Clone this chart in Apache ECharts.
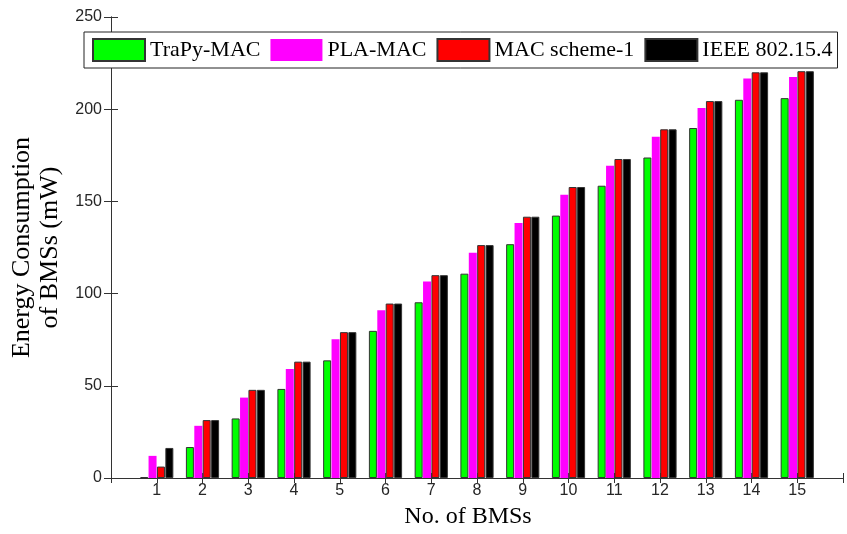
<!DOCTYPE html>
<html>
<head>
<meta charset="utf-8">
<script src="https://cdn.jsdelivr.net/npm/echarts@6/dist/echarts.min.js"></script>
<style>
html,body{margin:0;padding:0;background:#fff;}
#chart{width:847px;height:534px;}
</style>
</head>
<body>
<div id="chart"></div>
<script>
var categories = [1, 2, 3, 4, 5, 6, 7, 8, 9, 10, 11, 12, 13, 14, 15];
var seriesNames = ['TraPy-MAC', 'PLA-MAC', 'MAC scheme-1', 'IEEE 802.15.4'];
var trapyMac = [0.5, 16.8, 32.3, 48.3, 63.8, 79.8, 95.3, 110.8, 126.8, 142.3, 158.5, 173.8, 189.8, 205.1, 206];
var plaMac = [12, 28.3, 43.6, 59.1, 75.3, 91, 106.6, 122.1, 138.3, 153.6, 169.3, 185.1, 200.6, 216.6, 217.5];
var macScheme1 = [6.2, 31.4, 47.8, 63.1, 79.1, 94.6, 110, 126.3, 141.7, 157.8, 173, 189.1, 204.4, 220, 220.6];
var ieee802154 = [16.3, 31.4, 47.8, 63.1, 79.1, 94.6, 110, 126.3, 141.7, 157.8, 173, 189.1, 204.4, 220, 220.6];
var yTicks = [0, 50, 100, 150, 200, 250];

var seriesValues = [trapyMac, plaMac, macScheme1, ieee802154];
var colors = ['#00ff00', '#ff00ff', '#ff0000', '#000000'];
var borders = [1, 0, 1, 1];

var chart = echarts.init(document.getElementById('chart'), null, {renderer: 'canvas'});

var series = seriesNames.map(function (name, i) {
  return {
    name: name,
    type: 'bar',
    xAxisIndex: 0,
    yAxisIndex: 0,
    barWidth: 8,
    barGap: '5%',
    itemStyle: {color: colors[i], borderColor: '#333', borderWidth: borders[i]},
    emphasis: {disabled: true},
    data: categories.map(function (c, k) { return [c, seriesValues[i][k]]; })
  };
});

var axisLineStyle = {color: '#333', width: 1};

chart.setOption({
  animation: false,
  backgroundColor: '#fff',
  grid: {left: 109, right: 4, top: 17, bottom: 54, containLabel: false},
  legend: {
    data: seriesNames,
    left: 84,
    top: 32,
    orient: 'horizontal',
    itemWidth: 52,
    itemHeight: 22,
    itemGap: 10,
    padding: [6, 5, 6, 8],
    backgroundColor: '#fff',
    borderColor: '#222',
    borderWidth: 1,
    icon: 'rect',
    textStyle: {fontFamily: 'Liberation Serif', fontSize: 22, color: '#000'},
    z: 10
  },
  xAxis: [{
    type: 'value',
    min: 0,
    max: 16,
    interval: 1,
    position: 'bottom',
    name: 'No. of BMSs',
    nameLocation: 'middle',
    nameGap: 27,
    nameTextStyle: {fontFamily: 'Liberation Serif', fontSize: 24, color: '#000', padding: [0, 18, 0, 0]},
    axisLine: {show: true, lineStyle: axisLineStyle},
    axisTick: {show: true, inside: true, length: 5, lineStyle: axisLineStyle},
    axisLabel: {
      margin: 5,
      fontFamily: 'Liberation Sans',
      fontSize: 16,
      color: '#262626',
      formatter: function (v) { return categories.indexOf(v) >= 0 ? String(v) : ''; }
    },
    splitLine: {show: false}
  }, {
    type: 'value',
    min: 0,
    max: 16,
    interval: 1,
    position: 'top',
    axisLine: {show: true, lineStyle: axisLineStyle},
    axisTick: {show: true, inside: true, length: 5, lineStyle: axisLineStyle},
    axisLabel: {show: false},
    splitLine: {show: false}
  }],
  yAxis: [{
    type: 'value',
    min: 0,
    max: 250,
    interval: 50,
    position: 'left',
    name: 'Energy Consumption\nof BMSs (mW)',
    nameLocation: 'middle',
    nameRotate: 90,
    nameGap: 47,
    nameTextStyle: {fontFamily: 'Liberation Serif', fontSize: 26, lineHeight: 28, color: '#000'},
    axisLine: {show: true, lineStyle: axisLineStyle},
    axisTick: {show: true, inside: true, length: 7, lineStyle: axisLineStyle},
    axisLabel: {
      margin: 9,
      fontFamily: 'Liberation Sans',
      fontSize: 16,
      color: '#262626',
      formatter: function (v) { return yTicks.indexOf(v) >= 0 ? String(v) : ''; }
    },
    splitLine: {show: false}
  }, {
    type: 'value',
    min: 0,
    max: 250,
    interval: 50,
    position: 'right',
    axisLine: {show: true, lineStyle: axisLineStyle},
    axisTick: {show: true, inside: true, length: 7, lineStyle: axisLineStyle},
    axisLabel: {show: false},
    splitLine: {show: false}
  }],
  series: series
});
</script>
</body>
</html>
